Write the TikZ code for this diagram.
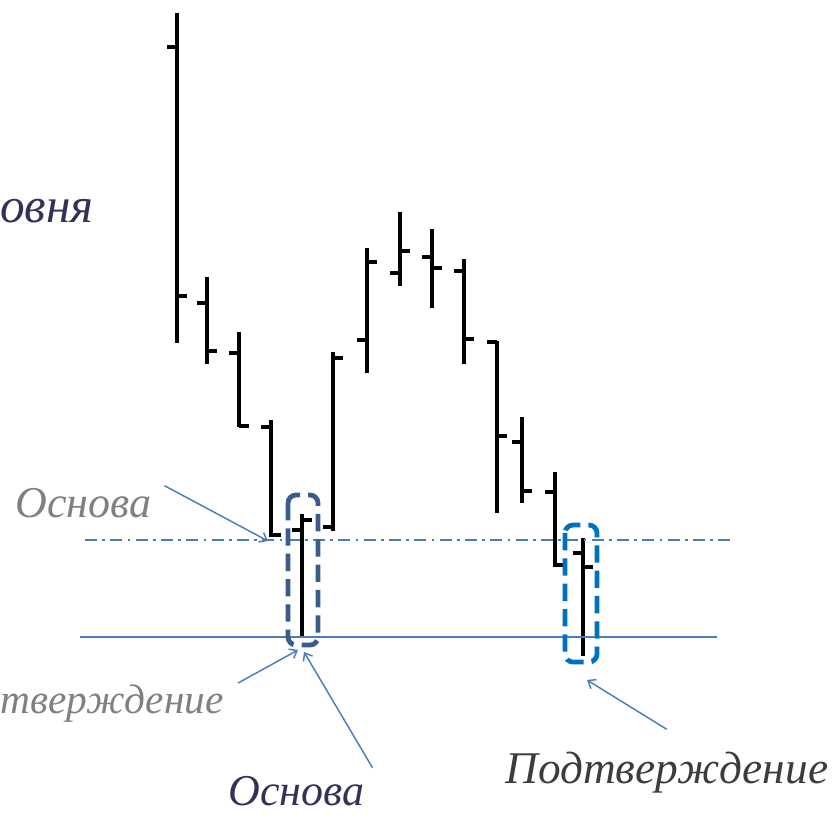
\documentclass[tikz,border=0pt]{standalone}
\usepackage{fontspec}
\newfontfamily\lblfont{Liberation Serif}
\usetikzlibrary{arrows.meta}

\definecolor{lineblue}{RGB}{74,126,187}
\definecolor{frameA}{RGB}{56,93,138}
\definecolor{frameB}{RGB}{0,112,192}
\definecolor{greytext}{RGB}{128,128,128}
\definecolor{navytext}{RGB}{50,50,88}
\definecolor{darktext}{RGB}{60,60,60}

\tikzset{
  pricebar/.style={line width=2.6, color=black},
  level/.style={color=lineblue, line width=1.1},
  pointer/.style={color=lineblue, line width=1.1, -{Straight Barb[length=5pt,width=8pt]}},
  frame/.style={line width=3.6, rounded corners=6, dash pattern=on 13pt off 6pt},
  caption/.style={anchor=base west, inner sep=0, font=\lblfont\itshape\fontsize{#1}{#1}\selectfont}
}

\begin{document}
\begin{tikzpicture}[x=0.75pt,y=0.75pt,yscale=-1,xscale=1]
\useasboundingbox (0,0) rectangle (838,836);

%Bars: x / high / low / open / close
\foreach \x/\h/\l/\o/\c in {177/13/343/47/296, 207/277/364/303/351, 239/332/427/353/426,
  271/420/537/427/535, 302/514/637/530/520, 333/352/531/527/358, 367/248/373/340/262,
  400/212/286/273/251, 432/229/308/257/268, 464/259/364/271/339, 497/341/513/342/436,
  522/417/503/442/491, 555/472/567/492/565, 583/538/656/553/567}
{
  \draw [pricebar] (\x,\h) -- (\x,\l) ;
  \draw [pricebar] (\x-10,\o) -- (\x,\o) ;
  \draw [pricebar] (\x,\c) -- (\x+10,\c) ;
}

%Straight Lines: levels
\draw [level, dash pattern=on 9pt off 4pt on 2pt off 4pt] (85,540) -- (733,540) ;
\draw [level] (80,637) -- (717,637) ;

%Shape: dashed frames
\draw [frame, color=frameA] (288,495) rectangle (318,645) ;
\draw [frame, color=frameB] (565,525) rectangle (597,662) ;

% Text Node
\node [caption=37, text=navytext] (lvl) at (0,222) {овня};
% Text Node
\node [caption=33, text=greytext] (baseA) at (15,517) {Основа};
% Text Node
\node [caption=31, text=greytext] (confA) at (0,713) {тверждение};
% Text Node
\node [caption=33, text=navytext] (baseB) at (228,805) {Основа};
% Text Node
\node [caption=34, text=darktext] (confB) at (505,783) {Подтверждение};

%Pointers
\coordinate (pA) at (268,541) ;
\coordinate (pB) at (298,650) ;
\coordinate (pC) at (304,652) ;
\coordinate (pD) at (587,680) ;
\draw [pointer] (baseA.east) ++(13,-17) -- (pA) ;
\draw [pointer] (confA.east) ++(14,-20) -- (pB) ;
\draw [pointer] (baseB.east) ++(8,-23) -- (pC) ;
\draw [pointer] (confB.north) ++(0,-22) -- (pD) ;

\end{tikzpicture}
\end{document}
